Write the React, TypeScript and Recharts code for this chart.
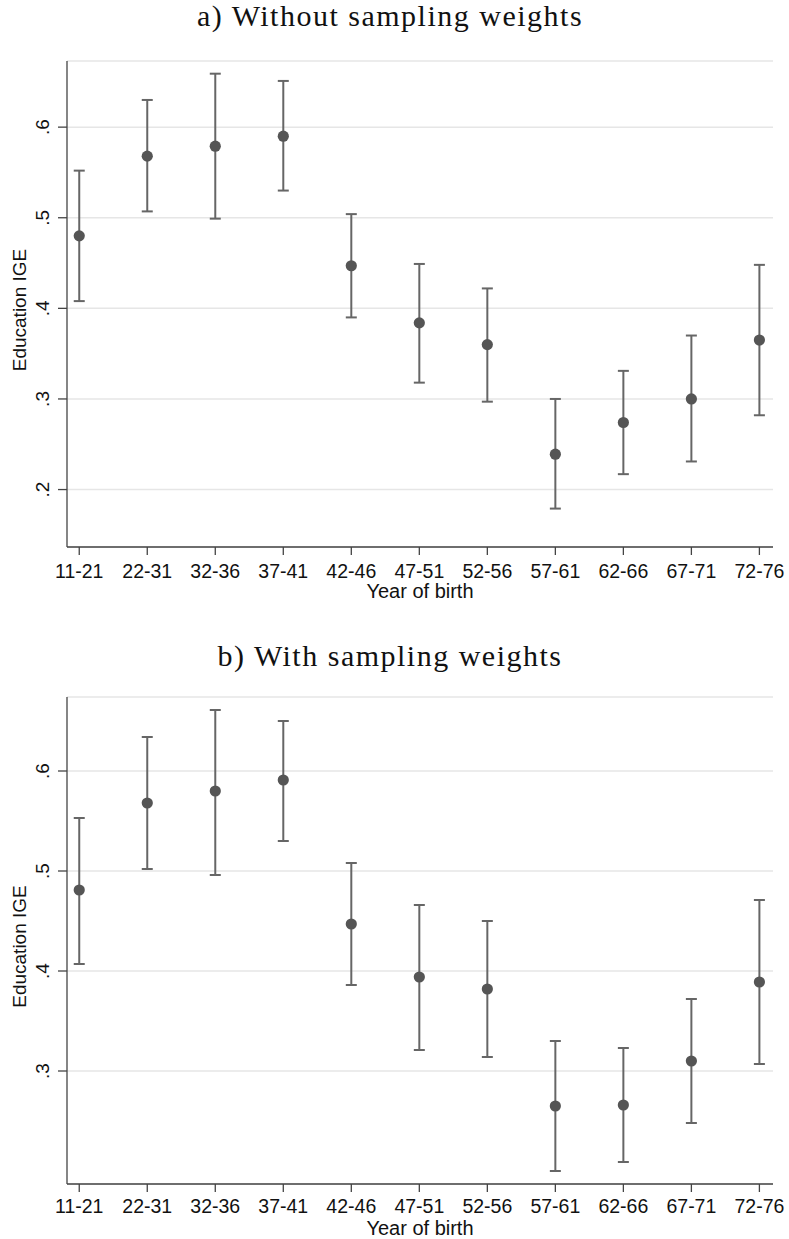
import { ScatterChart, Scatter, XAxis, YAxis, CartesianGrid, ErrorBar } from 'recharts'

const cohorts = ['11-21', '22-31', '32-36', '37-41', '42-46', '47-51', '52-56', '57-61', '62-66', '67-71', '72-76']

// a) without sampling weights
const estA = [0.48, 0.568, 0.579, 0.59, 0.447, 0.384, 0.36, 0.239, 0.274, 0.3, 0.365]
const lowA = [0.408, 0.507, 0.499, 0.53, 0.39, 0.318, 0.297, 0.179, 0.217, 0.231, 0.282]
const highA = [0.552, 0.63, 0.659, 0.651, 0.504, 0.449, 0.422, 0.3, 0.331, 0.37, 0.448]
const ticksA = [0.2, 0.3, 0.4, 0.5, 0.6]

// b) with sampling weights
const estB = [0.481, 0.568, 0.58, 0.591, 0.447, 0.394, 0.382, 0.265, 0.266, 0.31, 0.389]
const lowB = [0.407, 0.502, 0.496, 0.53, 0.386, 0.321, 0.314, 0.2, 0.209, 0.248, 0.307]
const highB = [0.553, 0.634, 0.661, 0.65, 0.508, 0.466, 0.45, 0.33, 0.323, 0.372, 0.471]
const ticksB = [0.3, 0.4, 0.5, 0.6]

const xTicks = cohorts.map((_, i) => i)
const axisColor = '#444'
const barColor = '#666'
const dotColor = '#555'
const sans = 'Arial, "Liberation Sans", sans-serif'

const fmtY = (v: number) => String(v).replace(/^0/, '')

function YTick({ x, y, payload }: any) {
  return (
    <text
      x={x - 7}
      y={y}
      transform={`rotate(-90 ${x - 7} ${y})`}
      textAnchor="middle"
      fontSize={19}
      fontFamily={sans}
      fill="#111"
    >
      {fmtY(payload.value)}
    </text>
  )
}

function XTick({ x, y, payload }: any) {
  return (
    <text x={x} y={y + 21} textAnchor="middle" fontSize={19.5} fontFamily={sans} fill="#111">
      {cohorts[payload.value]}
    </text>
  )
}

interface PanelProps {
  title: string
  est: number[]
  low: number[]
  high: number[]
  ticks: number[]
  domain: [number, number]
  top: number
  titleBaseline: number
  plotTop: number
  plotBottom: number
  tickGap: number
}

function Panel({ title, est, low, high, ticks, domain, top, titleBaseline, plotTop, plotBottom, tickGap }: PanelProps) {
  const data = est.map((v, i) => ({ x: i, y: v, err: [v - low[i], high[i] - v] }))
  const xAxisH = 60
  const height = plotBottom - top + xAxisH
  return (
    <div style={{ position: 'absolute', left: 0, top, width: 789, height }}>
      <div
        style={{
          position: 'absolute',
          left: 0,
          width: 780,
          top: titleBaseline - top - 25,
          textAlign: 'center',
          fontFamily: '"Liberation Serif", serif',
          fontSize: 30,
          lineHeight: '31px',
          letterSpacing: 1.5,
          color: '#111',
          whiteSpace: 'nowrap',
        }}
      >
        {title}
      </div>
      <ScatterChart
        width={789}
        height={height}
        margin={{ top: plotTop - top, right: 16, bottom: 0, left: 0 }}
      >
        <CartesianGrid vertical={false} stroke="#e6e6e6" strokeWidth={1.5} />
        <XAxis
          type="number"
          dataKey="x"
          domain={[-0.18, 10.2]}
          ticks={xTicks}
          interval={0}
          height={xAxisH}
          tick={(p: any) => <XTick {...p} y={p.y + tickGap - 25} />}
          tickSize={8}
          tickLine={{ stroke: axisColor, strokeWidth: 1.3 }}
          axisLine={{ stroke: axisColor, strokeWidth: 1.3 }}
          allowDataOverflow
          label={({ viewBox }: any) => (
            <text
              x={viewBox.x + viewBox.width / 2}
              y={viewBox.y + 51}
              textAnchor="middle"
              fontSize={20}
              fontFamily={sans}
              fill="#111"
            >
              Year of birth
            </text>
          )}
        />
        <YAxis
          type="number"
          dataKey="y"
          domain={domain}
          ticks={ticks}
          width={67}
          tick={<YTick />}
          tickSize={9}
          tickLine={{ stroke: axisColor, strokeWidth: 1.3 }}
          axisLine={{ stroke: axisColor, strokeWidth: 1.3 }}
          allowDataOverflow
          label={({ viewBox }: any) => {
            const cy = viewBox.y + viewBox.height / 2 + 6
            return (
              <text
                x={26}
                y={cy}
                transform={`rotate(-90 26 ${cy})`}
                textAnchor="middle"
                fontSize={19}
                fontFamily={sans}
                fill="#111"
              >
                Education IGE
              </text>
            )
          }}
        />
        <Scatter
          data={data}
          isAnimationActive={false}
          shape={(p: any) => <circle cx={p.cx} cy={p.cy} r={5.6} fill={dotColor} />}
        >
          <ErrorBar dataKey="err" direction="y" width={5.5} stroke={barColor} strokeWidth={2} isAnimationActive={false} />
        </Scatter>
      </ScatterChart>
    </div>
  )
}

export default function App() {
  return (
    <div style={{ position: 'absolute', left: 0, top: 0, width: 789, height: 1239, background: '#fff' }}>
      <Panel
        title="a) Without sampling weights"
        est={estA}
        low={lowA}
        high={highA}
        ticks={ticksA}
        domain={[0.1366, 0.673]}
        top={0}
        titleBaseline={25}
        plotTop={61}
        plotBottom={547}
        tickGap={25}
      />
      <Panel
        title="b) With sampling weights"
        est={estB}
        low={lowB}
        high={highB}
        ticks={ticksB}
        domain={[0.187, 0.674]}
        top={632}
        titleBaseline={665}
        plotTop={697}
        plotBottom={1184}
        tickGap={23}
      />
    </div>
  )
}
